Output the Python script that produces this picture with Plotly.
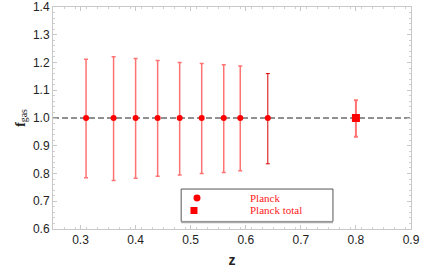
import plotly.graph_objects as go

z_planck = [0.31, 0.36, 0.40, 0.44, 0.48, 0.52, 0.56, 0.59, 0.64]
f_planck = [1.0, 1.0, 1.0, 1.0, 1.0, 1.0, 1.0, 1.0, 1.0]
err_up = [0.212, 0.221, 0.214, 0.207, 0.200, 0.196, 0.192, 0.187, 0.160]
err_dn = [0.215, 0.225, 0.217, 0.210, 0.205, 0.200, 0.196, 0.190, 0.165]

z_total = [0.80]
f_total = [1.0]
total_up = [0.064]
total_dn = [0.068]

x_ticks = [0.3, 0.4, 0.5, 0.6, 0.7, 0.8, 0.9]
y_ticks = [0.6, 0.7, 0.8, 0.9, 1.0, 1.1, 1.2, 1.3, 1.4]

legend_names = ["Planck", "Planck total"]

fig = go.Figure()

# dark thin bar for the last Planck point
fig.add_trace(go.Scatter(
    x=z_planck[-1:], y=f_planck[-1:], mode="markers",
    marker=dict(symbol="circle", size=6, color="red"),
    error_y=dict(type="data", symmetric=False, array=err_up[-1:], arrayminus=err_dn[-1:],
                 color="rgb(215,0,0)", thickness=1, width=2),
    showlegend=False, hoverinfo="skip"))

fig.add_trace(go.Scatter(
    x=z_planck[:-1], y=f_planck[:-1], mode="markers", name=legend_names[0],
    marker=dict(symbol="circle", size=6, color="red"),
    error_y=dict(type="data", symmetric=False, array=err_up[:-1], arrayminus=err_dn[:-1],
                 color="rgba(255,0,0,0.55)", thickness=1.5, width=2),
    showlegend=False))

fig.add_trace(go.Scatter(
    x=z_total, y=f_total, mode="markers", name=legend_names[1],
    marker=dict(symbol="square", size=8, color="red"),
    error_y=dict(type="data", symmetric=False, array=total_up, arrayminus=total_dn,
                 color="rgba(255,0,0,0.55)", thickness=2, width=2),
    showlegend=False))

# dashed reference line
fig.add_shape(type="line", xref="paper", yref="y", x0=0, x1=1, y0=1.0, y1=1.0,
              line=dict(color="#222", width=1.2, dash="6px,3px"), layer="below")

# legend box (Mathematica style, drawn manually)
fig.add_shape(type="rect", xref="paper", yref="paper",
              x0=0.358, x1=0.782, y0=0.034, y1=0.18,
              line=dict(color="#555", width=1), fillcolor="white", layer="above")
fig.add_shape(type="line", xref="paper", yref="paper",
              x0=0.358, x1=0.782, y0=0.030, y1=0.030,
              line=dict(color="#aaa", width=2))
# legend symbols
fig.add_shape(type="circle", xref="paper", yref="paper",
              x0=0.3925, x1=0.412, y0=0.1239, y1=0.1554,
              line=dict(width=0), fillcolor="red", layer="above")
fig.add_shape(type="rect", xref="paper", yref="paper",
              x0=0.384, x1=0.4036, y0=0.0676, y1=0.0991,
              line=dict(width=0), fillcolor="red", layer="above")

leg_font = dict(family="Liberation Serif, Times New Roman", size=11, color="#ff2020")
fig.add_annotation(x=0.545, y=0.140, xref="paper", yref="paper", text=legend_names[0], showarrow=False,
                   font=leg_font, xanchor="left", yanchor="middle")
fig.add_annotation(x=0.545, y=0.084, xref="paper", yref="paper", text=legend_names[1], showarrow=False,
                   font=leg_font, xanchor="left", yanchor="middle")

axis_common = dict(
    showgrid=False, zeroline=False, showline=True, linecolor="#c8c8c8", linewidth=1,
    mirror="ticks", ticks="inside", ticklen=4, tickcolor="#c8c8c8", automargin=False,
    tickfont=dict(family="Liberation Sans, Arial", size=12, color="#222"),
    minor=dict(ticks="inside", ticklen=2, tickcolor="#d0d0d0", showgrid=False),
)

fig.update_layout(
    width=443, height=276,
    margin=dict(l=53, r=32, t=7, b=47),
    paper_bgcolor="white", plot_bgcolor="white",
    xaxis=dict(range=[0.25, 0.9], tickvals=x_ticks, ticktext=[f"{v:.1f}" for v in x_ticks],
               minor_dtick=0.02, minor_tick0=0.25,
               title=dict(text="<b>z</b>", font=dict(family="Liberation Sans, Arial", size=14, color="#222"), standoff=8),
               **axis_common),
    yaxis=dict(range=[0.6, 1.4], tickvals=y_ticks, ticktext=[f"{v:.1f}" for v in y_ticks],
               minor_dtick=0.02, minor_tick0=0.6,
               title=dict(text="<b>f</b><sub>gas</sub>", font=dict(family="Liberation Serif, Times New Roman", size=14, color="#222"), standoff=4),
               **axis_common),
    showlegend=False,
)

fig.write_html("out.html", config={"displayModeBar": False},
               post_script="document.body.style.margin='0';")
